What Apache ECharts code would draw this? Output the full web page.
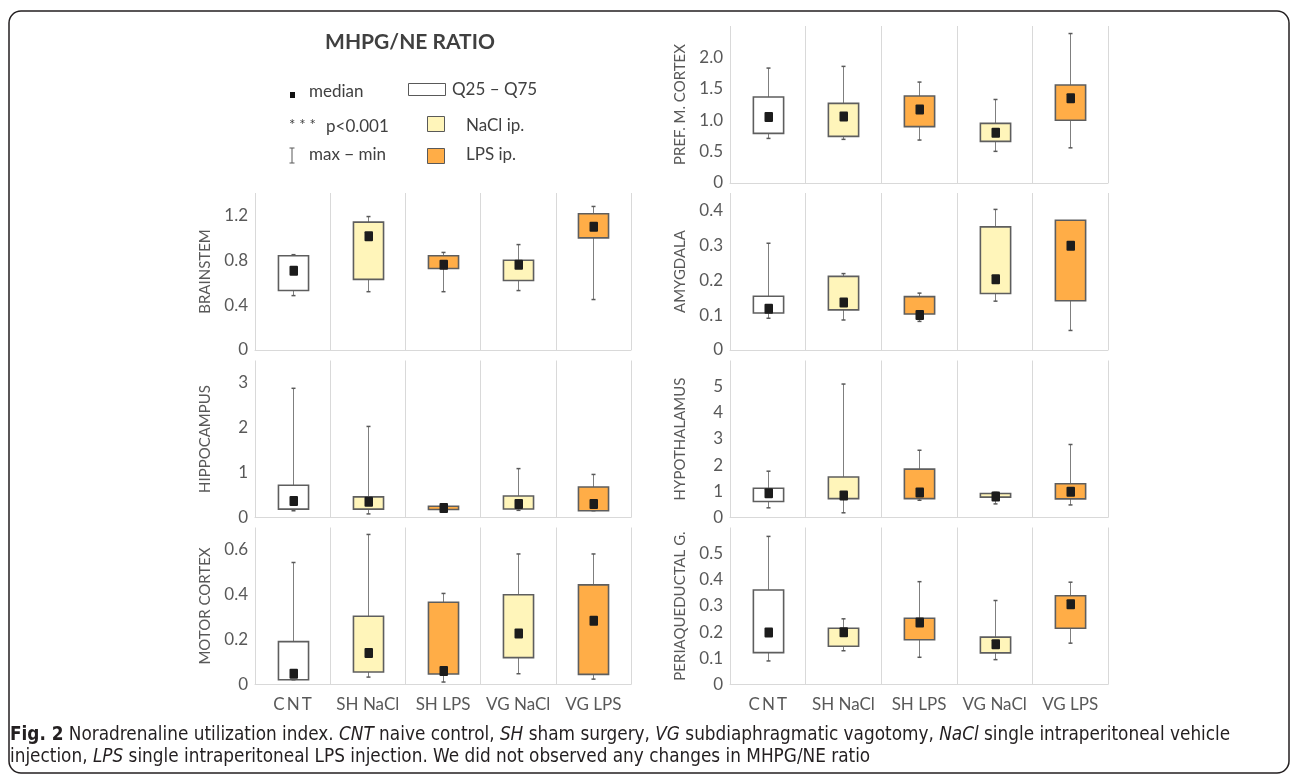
<!DOCTYPE html>
<html><head><meta charset="utf-8">
<script src="https://cdn.jsdelivr.net/npm/echarts@6/dist/echarts.min.js"></script>
<style>html,body{margin:0;padding:0;background:#fff}#c{width:1295px;height:778px}</style>
</head><body><div id="c"></div>
<script>
const categories = ['C\u2009N\u2009T', 'SH NaCl', 'SH LPS', 'VG NaCl', 'VG LPS'];
const groupFill = ['#FFFFFF', '#FFF5BA', '#FFAD47', '#FFF5BA', '#FFAD47'];
// each row: [min, Q25, median, Q75, max]
const prefCortex = [[0.71,0.79,1.05,1.37,1.83],[0.695,0.743,1.06,1.268,1.857],[0.684,0.897,1.17,1.385,1.607],[0.504,0.663,0.80,0.95,1.33],[0.56,1.0,1.35,1.56,2.38]];
const brainstem = [[0.485,0.53,0.706,0.84,0.85],[0.52,0.63,1.015,1.14,1.19],[0.52,0.727,0.76,0.84,0.87],[0.53,0.62,0.76,0.80,0.94],[0.45,1.0,1.10,1.215,1.28]];
const amygdala = [[0.091,0.106,0.118,0.154,0.306],[0.086,0.115,0.136,0.211,0.219],[0.082,0.103,0.10,0.153,0.163],[0.140,0.162,0.203,0.353,0.403],[0.056,0.141,0.299,0.372,0.372]];
const hippocampus = [[0.15,0.186,0.37,0.72,2.88],[0.08,0.186,0.35,0.46,2.03],[0.15,0.18,0.21,0.25,0.26],[0.16,0.19,0.30,0.48,1.09],[0.15,0.15,0.30,0.68,0.96]];
const hypothalamus = [[0.37,0.61,0.93,1.12,1.77],[0.18,0.72,0.84,1.55,5.10],[0.66,0.72,0.96,1.85,2.57],[0.52,0.78,0.80,0.92,0.96],[0.48,0.71,0.98,1.29,2.79]];
const motorCortex = [[0.021,0.021,0.048,0.191,0.544],[0.033,0.056,0.141,0.304,0.669],[0.011,0.047,0.060,0.367,0.406],[0.048,0.120,0.227,0.40,0.582],[0.024,0.045,0.284,0.444,0.582]];
const periaqueductal = [[0.090,0.122,0.199,0.361,0.566],[0.129,0.146,0.20,0.215,0.251],[0.104,0.171,0.237,0.253,0.393],[0.095,0.121,0.154,0.181,0.321],[0.158,0.215,0.307,0.339,0.391]];

const panels = [
  {name:'PREF. M. CORTEX', data:prefCortex, max:2.5, interval:0.5, dec:1, left:730, top:26, width:378, showX:false},
  {name:'BRAINSTEM', data:brainstem, max:1.4, interval:0.4, dec:1, left:255, top:193, width:376, showX:false},
  {name:'AMYGDALA', data:amygdala, max:0.45, interval:0.1, dec:1, left:730, top:193, width:378, showX:false},
  {name:'HIPPOCAMPUS', data:hippocampus, max:3.5, interval:1, dec:0, left:255, top:360.5, width:376, showX:false},
  {name:'HYPOTHALAMUS', data:hypothalamus, max:6, interval:1, dec:0, left:730, top:360.5, width:378, showX:false},
  {name:'MOTOR CORTEX', data:motorCortex, max:0.7, interval:0.2, dec:1, left:255, top:527.5, width:376, showX:true},
  {name:'PERIAQUEDUCTAL G.', data:periaqueductal, max:0.6, interval:0.1, dec:1, left:730, top:527.5, width:378, showX:true}
];

const FONT = 'Lato, "Open Sans", sans-serif';
const GRID_COLOR = '#d9d9d9';
const TXT = '#595959';

function renderBox(params, api) {
  const i = api.value(0);
  const c = v => api.coord([i, v]);
  const pMin = c(api.value(1)), pQ1 = c(api.value(2)), pMed = c(api.value(3)), pQ3 = c(api.value(4)), pMax = c(api.value(5));
  const bw = api.size([1, 0])[0] * 0.40;
  const x = Math.round(pMin[0]) + 0.5;
  const cap = 2;
  const wStyle = {stroke:'#7f7f7f', lineWidth:1};
  const cStyle = {stroke:'#595959', lineWidth:1.5};
  const children = [
    {type:'line', shape:{x1:x, y1:pQ1[1], x2:x, y2:pMin[1]}, style:wStyle},
    {type:'line', shape:{x1:x-cap, y1:pMin[1], x2:x+cap, y2:pMin[1]}, style:cStyle}
  ];
  if (pQ3[1] - pMax[1] > 1) {
    children.push({type:'line', shape:{x1:x, y1:pMax[1], x2:x, y2:pQ3[1]}, style:wStyle});
    children.push({type:'line', shape:{x1:x-cap, y1:pMax[1], x2:x+cap, y2:pMax[1]}, style:cStyle});
  }
  children.push({type:'rect', shape:{x:x-bw/2, y:pQ3[1], width:bw, height:pQ1[1]-pQ3[1]},
      style:{fill:groupFill[params.dataIndex], stroke:'#5e5e5e', lineWidth:1.6}});
  children.push({type:'rect', shape:{x:x-4, y:pMed[1]-5, width:8.5, height:10, r:1}, style:{fill:'#1c1c1c'}});
  return {type:'group', children:children};
}

const grids = [], xAxes = [], yAxes = [], series = [];
panels.forEach((p, k) => {
  grids.push({left:p.left, top:p.top, width:p.width, height:157});
  xAxes.push({
    type:'category', gridIndex:k, data:categories, boundaryGap:true,
    axisLine:{show:true, lineStyle:{color:GRID_COLOR, width:1}},
    axisTick:{show:false},
    splitLine:{show:true, interval:0, lineStyle:{color:GRID_COLOR, width:1}},
    axisLabel:{show:p.showX, interval:0, color:TXT, fontFamily:FONT, fontSize:17, margin:12}
  });
  yAxes.push({
    type:'value', gridIndex:k, min:0, max:p.max, interval:p.interval,
    name:p.name, nameLocation:'middle', nameGap:42,
    nameTextStyle:{color:TXT, fontFamily:FONT, fontSize:15},
    axisLine:{show:false}, axisTick:{show:false}, splitLine:{show:false},
    axisLabel:{color:TXT, fontFamily:FONT, fontSize:17, margin:7, showMaxLabel:false,
      formatter: v => (v === 0 ? '0' : v.toFixed(p.dec))}
  });
  series.push({
    type:'custom', xAxisIndex:k, yAxisIndex:k, renderItem:renderBox,
    encode:{x:0, y:[1,2,3,4,5]},
    data:p.data.map((d, i) => [i].concat(d)), z:5
  });
});

const LEG = '#404040';
function T(x, y, text, extra) {
  return {type:'text', x:x, y:y, style:Object.assign({text:text, fontFamily:FONT, fontSize:17, fill:LEG, verticalAlign:'middle'}, extra || {})};
}
const graphic = [
  {type:'rect', shape:{x:9, y:11, width:1280, height:762, r:12}, style:{fill:'none', stroke:'#231f20', lineWidth:1.5}, silent:true},
  T(410, 42, 'MHPG/NE RATIO', {fontSize:21, fontWeight:'bold', align:'center'}),
  {type:'rect', shape:{x:290, y:92, width:5, height:6}, style:{fill:'#111'}},
  T(309, 92, 'median'),
  {type:'rect', shape:{x:408.5, y:83.5, width:37, height:12}, style:{fill:'#fff', stroke:'#595959', lineWidth:1}},
  T(452, 90, 'Q25 \u2013 Q75'),
  T(289, 125, '* * *', {fontSize:15}),
  T(326, 127, 'p<0.001'),
  {type:'rect', shape:{x:427.5, y:116.5, width:17, height:15}, style:{fill:'#FFF5BA', stroke:'#595959', lineWidth:1}},
  T(466, 126, 'NaCl ip.'),
  {type:'line', shape:{x1:292, y1:148, x2:292, y2:163}, style:{stroke:'#595959', lineWidth:1}},
  {type:'line', shape:{x1:289.5, y1:148, x2:294.5, y2:148}, style:{stroke:'#595959', lineWidth:1}},
  {type:'line', shape:{x1:289.5, y1:163, x2:294.5, y2:163}, style:{stroke:'#595959', lineWidth:1}},
  T(309, 155, 'max \u2212 min'),
  {type:'rect', shape:{x:427.5, y:148.5, width:17, height:15}, style:{fill:'#FFAD47', stroke:'#595959', lineWidth:1}},
  T(466, 155, 'LPS ip.')
];
const CAPF = '"Liberation Sans Narrow", "DejaVu Sans Condensed", sans-serif';
const CAPS = 18.8;
const capRich = {
  b:{fontFamily:CAPF, fontSize:CAPS, fontWeight:'bold', fill:'#231f20'},
  i:{fontFamily:CAPF, fontSize:CAPS, fontStyle:'italic', fill:'#231f20'}
};
graphic.push({type:'text', x:10, y:735, style:{
  text:'{b|Fig. 2} Noradrenaline utilization index. {i|CNT} naive control, {i|SH} sham surgery, {i|VG} subdiaphragmatic vagotomy, {i|NaCl} single intraperitoneal vehicle',
  fontFamily:CAPF, fontSize:CAPS, fill:'#231f20', verticalAlign:'middle', rich:capRich}});
graphic.push({type:'text', x:10, y:757, style:{
  text:'injection, {i|LPS} single intraperitoneal LPS injection. We did not observed any changes in MHPG/NE ratio',
  fontFamily:CAPF, fontSize:CAPS, fill:'#231f20', verticalAlign:'middle', rich:capRich}});

const chart = echarts.init(document.getElementById('c'), null, {renderer:'canvas'});
chart.setOption({
  animation:false,
  backgroundColor:'#ffffff',
  grid:grids, xAxis:xAxes, yAxis:yAxes, series:series, graphic:graphic
});
</script></body></html>
